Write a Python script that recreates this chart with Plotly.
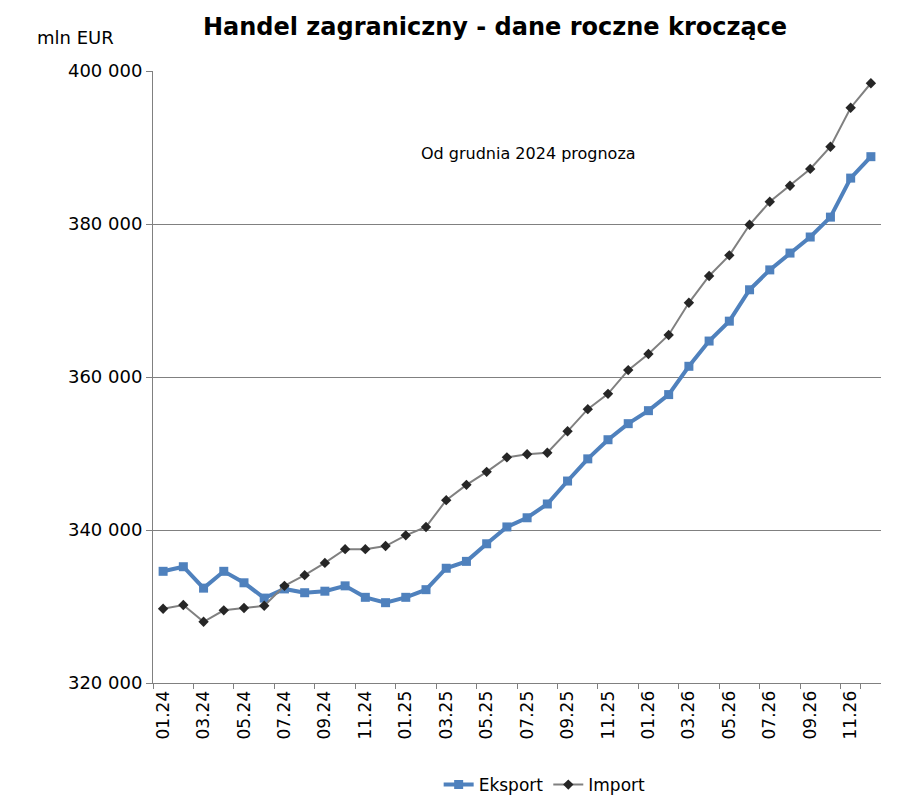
import plotly.graph_objects as go

months = [f"{m:02d}.{y}" for y in (24, 25, 26) for m in range(1, 13)]

eksport = [334600, 335200, 332400, 334600, 333100, 331100, 332300, 331800, 332000, 332700, 331200, 330500,
           331200, 332200, 335000, 335900, 338200, 340400, 341600, 343400, 346400, 349300, 351800, 353900,
           355600, 357700, 361400, 364700, 367300, 371400, 374000, 376200, 378300, 380900, 386000, 388800]

import_ = [329700, 330200, 328000, 329500, 329800, 330100, 332700, 334100, 335700, 337500, 337500, 337900,
           339300, 340400, 343900, 345900, 347600, 349500, 349900, 350100, 352900, 355800, 357800, 360900,
           363000, 365500, 369700, 373200, 375900, 379900, 382900, 385000, 387200, 390100, 395200, 398400]

y_ticks = [320000, 340000, 360000, 380000, 400000]
y_labels = ["320 000", "340 000", "360 000", "380 000", "400 000"]

FONT = "DejaVu Sans"

fig = go.Figure()
fig.add_trace(go.Scatter(x=months, y=eksport, name="Eksport", mode="lines+markers",
                         line=dict(color="#4F81BD", width=4),
                         marker=dict(symbol="square", size=9, color="#4F81BD")))
fig.add_trace(go.Scatter(x=months, y=import_, name="Import", mode="lines+markers",
                         line=dict(color="#808080", width=2),
                         marker=dict(symbol="diamond", size=8, color="#262626")))

fig.update_layout(
    width=900, height=797,
    margin=dict(l=153, r=19, t=71, b=114),
    paper_bgcolor="white", plot_bgcolor="white",
    font=dict(family=FONT, color="#000000"),
    title=dict(text="<b>Handel zagraniczny - dane roczne kroczące</b>", x=0.55, xanchor="center",
               y=0.967, yanchor="middle", font=dict(size=24, family=FONT)),
    showlegend=True,
    legend=dict(orientation="h", x=0.538, xanchor="center", yref="container", y=0.015, yanchor="middle",
                font=dict(size=17, family=FONT), bgcolor="rgba(0,0,0,0)"),
    annotations=[
        dict(text="Od grudnia 2024 prognoza", xref="paper", yref="paper", x=0.516, y=0.866,
             yanchor="middle", showarrow=False, font=dict(size=16, family=FONT)),
        dict(text="mln EUR", xref="paper", yref="paper", x=-0.107, y=1.054, xanchor="center",
             yanchor="middle", showarrow=False, font=dict(size=18, family=FONT)),
    ],
)

fig.update_xaxes(type="category", tickmode="array", tickvals=months[::2], ticktext=months[::2],
                 tickangle=-90, tickson="boundaries", ticks="outside", ticklen=5, tickcolor="#808080",
                 showline=True, linecolor="#808080", linewidth=1, showgrid=False, automargin=False,
                 tickfont=dict(size=17, family=FONT), range=[-0.5, 35.5])
fig.update_yaxes(range=[320000, 400000], tickvals=y_ticks, ticktext=y_labels,
                 ticks="outside", ticklen=6, tickcolor="#808080", automargin=False,
                 showline=True, linecolor="#808080", linewidth=1,
                 showgrid=True, gridcolor="#808080", gridwidth=1, zeroline=False,
                 tickfont=dict(size=18, family=FONT))

fig.write_html("out.html", config={"displayModeBar": False},
               post_script="document.body.style.margin='0';")
